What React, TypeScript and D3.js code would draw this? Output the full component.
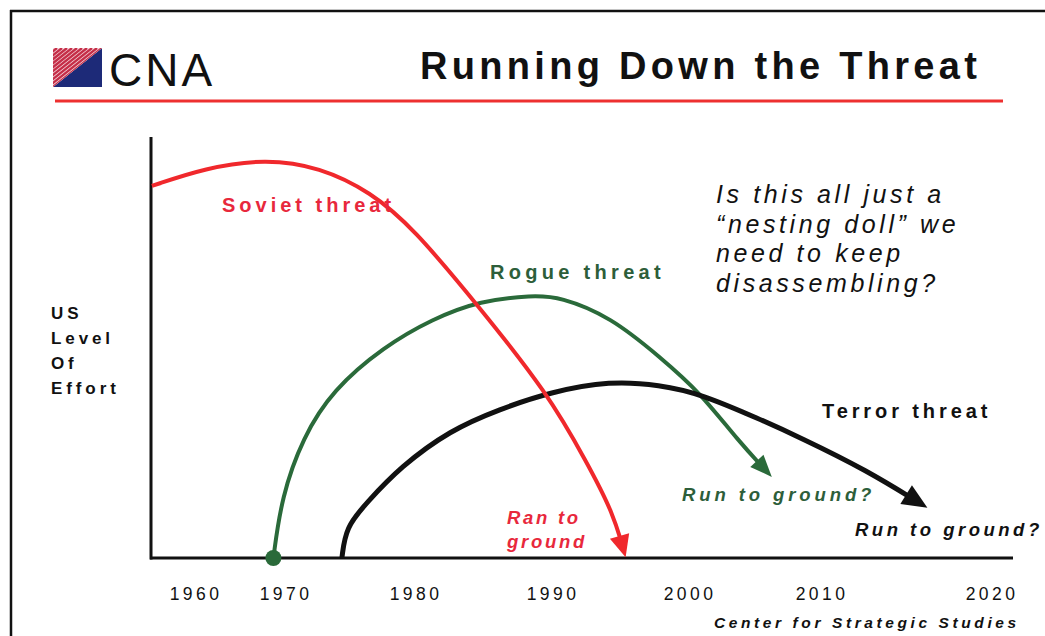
import * as React from 'react';
import {useEffect, useRef} from 'react';
import * as d3 from 'd3';

const width = 1045;
const height = 636;

// axis tick labels (the slide spaces them by hand)
const tickYears = [1960, 1970, 1980, 1990, 2000, 2010, 2020];

// Soviet threat
const sovietYears = [1955.1, 1961, 1967.7, 1972.6, 1976.5, 1979.8, 1984.5, 1989.6, 1992.5, 1994.4, 1995.3];
const sovietLevel = [89, 93.3, 95.5, 93.5, 87.6, 78.9, 60.5, 39.5, 22.7, 10.8, 0.2];

// Rogue threat
const rogueYears = [1968.6, 1969.5, 1971.3, 1973.6, 1977.5, 1981.2, 1984.7, 1988.5, 1990.5, 1994.2, 1997.8, 2000.8, 2003.6, 2006.2];
const rogueLevel = [0, 14.6, 28.9, 40.2, 50.5, 57.2, 61.6, 62.8, 62.5, 57.7, 48.1, 39.5, 28.2, 19.4];

// Terror threat
const terrorYears = [1974.3, 1974.6, 1976.2, 1978.8, 1982.5, 1986.1, 1989.8, 1994.2, 1997.8, 2000.8, 2005.3, 2008.3, 2012.6, 2016.2];
const terrorLevel = [0, 7.4, 13.2, 21.8, 30.6, 35.6, 39.7, 42.4, 41.4, 39.3, 33.2, 28.9, 21.1, 12.0];

const axisLabel = ['US', 'Level', 'Of', 'Effort'];
const question = ['Is this all just a', '\u201cnesting doll\u201d we', 'need to keep', 'disassembling?'];

const font = "'Liberation Sans', Arial, sans-serif";
const RED = '#f0282c';
const GREEN = '#2a6a3a';

export default function App() {
  const ref = useRef<SVGSVGElement>(null);

  useEffect(() => {
    const svg = d3.select(ref.current);
    svg.selectAll('*').remove();
    svg.style('font-family', font);

    const x = d3.scaleLinear().domain(tickYears).range([196, 286, 416, 553, 690, 822, 992]);
    const y = d3.scaleLinear().domain([0, 100]).range([558, 140]);

    // slide frame
    svg.append('line').attr('x1', 10).attr('x2', width).attr('y1', 11).attr('y2', 11)
      .attr('stroke', '#111').attr('stroke-width', 2.5);
    svg.append('line').attr('x1', 11).attr('x2', 11).attr('y1', 10).attr('y2', height)
      .attr('stroke', '#111').attr('stroke-width', 2.5);

    // logo
    const defs = svg.append('defs');
    defs.append('clipPath').attr('id', 'logo-clip')
      .append('path').attr('d', 'M53,48 L102,48 L53,87 Z');
    const logo = svg.append('g');
    logo.append('path').attr('d', 'M102,48 L102,87 L53,87 Z').attr('fill', '#1d2a78');
    const hatch = logo.append('g').attr('clip-path', 'url(#logo-clip)');
    hatch.append('rect').attr('x', 53).attr('y', 48).attr('width', 49).attr('height', 39).attr('fill', '#f6dde2');
    d3.range(-60, 60, 5).forEach(o => {
      hatch.append('line')
        .attr('x1', 53 + o).attr('y1', 87).attr('x2', 102 + o).attr('y2', 48)
        .attr('stroke', '#c52e48').attr('stroke-width', 2.4);
    });
    svg.append('text').attr('x', 109).attr('y', 86).attr('font-size', 46)
      .attr('letter-spacing', 3).attr('fill', '#111').text('CNA');

    svg.append('text').attr('x', 420).attr('y', 79).attr('font-size', 38).attr('font-weight', 'bold')
      .attr('letter-spacing', 4.3).attr('fill', '#111').text('Running Down the Threat');
    svg.append('line').attr('x1', 55).attr('x2', 1003).attr('y1', 101).attr('y2', 101)
      .attr('stroke', '#ee3030').attr('stroke-width', 3);

    // axes
    svg.append('line').attr('x1', 151).attr('x2', 151).attr('y1', 137).attr('y2', y(0) + 1.5)
      .attr('stroke', '#111').attr('stroke-width', 3);
    svg.append('line').attr('x1', 150).attr('x2', 1013).attr('y1', y(0)).attr('y2', y(0))
      .attr('stroke', '#111').attr('stroke-width', 3);

    svg.append('g').selectAll('text').data(tickYears).join('text')
      .attr('x', d => x(d)).attr('y', 600).attr('text-anchor', 'middle')
      .attr('font-size', 17.5).attr('letter-spacing', 3.4).attr('fill', '#111').text(d => d);

    svg.append('g').selectAll('text').data(axisLabel).join('text')
      .attr('x', 51).attr('y', (d, i) => 319 + i * 25)
      .attr('font-size', 17).attr('font-weight', 'bold').attr('letter-spacing', 3.9)
      .attr('fill', '#111').text(d => d);

    const line = d3.line<[number, number]>()
      .x(d => x(d[0])).y(d => y(d[1]))
      .curve(d3.curveBasis);

    const drawCurve = (years: number[], levels: number[], color: string, sw: number, headLen: number, headW: number) => {
      const pts = years.map((yr, i) => [yr, levels[i]] as [number, number]);
      const path = svg.append('path').attr('d', line(pts)).attr('fill', 'none')
        .attr('stroke', color).attr('stroke-width', sw);
      const node = path.node() as SVGPathElement;
      const L = node.getTotalLength();
      const tip = node.getPointAtLength(L);
      const base = node.getPointAtLength(L - headLen);
      path.attr('stroke-dasharray', `${L - headLen + 3} ${L}`);
      const a = Math.atan2(tip.y - base.y, tip.x - base.x);
      const bx = tip.x - headLen * Math.cos(a);
      const by = tip.y - headLen * Math.sin(a);
      const nx = -Math.sin(a) * headW / 2;
      const ny = Math.cos(a) * headW / 2;
      svg.append('path')
        .attr('d', `M${tip.x},${tip.y} L${bx + nx},${by + ny} L${bx - nx},${by - ny} Z`)
        .attr('fill', color);
    };

    drawCurve(rogueYears, rogueLevel, GREEN, 4, 22, 18);
    drawCurve(terrorYears, terrorLevel, '#111', 5, 25, 22);
    drawCurve(sovietYears, sovietLevel, RED, 4, 22, 20);

    svg.append('circle').attr('cx', x(rogueYears[0])).attr('cy', y(0)).attr('r', 8).attr('fill', GREEN);

    // labels
    const bold = (tx: number, ty: number, txt: string, color: string, ls: number) =>
      svg.append('text').attr('x', tx).attr('y', ty).attr('font-size', 20).attr('font-weight', 'bold')
        .attr('letter-spacing', ls).attr('fill', color).text(txt);
    bold(222, 212, 'Soviet threat', '#e8283c', 4);
    bold(490, 279, 'Rogue threat', '#2d5e3a', 4.3);
    bold(822, 418, 'Terror threat', '#111', 3.9);

    svg.append('g').selectAll('text').data(['Ran to', 'ground']).join('text')
      .attr('x', 507).attr('y', (d, i) => 524 + i * 24)
      .attr('font-size', 18.5).attr('font-weight', 'bold').attr('font-style', 'italic')
      .attr('letter-spacing', 2.7).attr('fill', '#e8283c').text(d => d);
    svg.append('text').attr('x', 682).attr('y', 501).attr('font-size', 18.5).attr('font-weight', 'bold')
      .attr('font-style', 'italic').attr('letter-spacing', 3.9).attr('fill', '#2d5e3a').text('Run to ground?');
    svg.append('text').attr('x', 855).attr('y', 536).attr('font-size', 18.5).attr('font-weight', 'bold')
      .attr('font-style', 'italic').attr('letter-spacing', 3.5).attr('fill', '#111').text('Run to ground?');

    svg.append('g').selectAll('text').data(question).join('text')
      .attr('x', 716).attr('y', (d, i) => 203 + i * 29.6)
      .attr('font-size', 25).attr('font-style', 'italic').attr('letter-spacing', 3.6)
      .attr('fill', '#111').text(d => d);

    svg.append('text').attr('x', 714).attr('y', 628).attr('font-size', 15.5).attr('font-weight', 'bold')
      .attr('font-style', 'italic').attr('letter-spacing', 3.6).attr('fill', '#111').text('Center for Strategic Studies');
  }, []);

  return (
    <svg ref={ref} width={width} height={height}
      style={{position: 'absolute', left: 0, top: 0, background: '#fff'}}/>
  );
}
